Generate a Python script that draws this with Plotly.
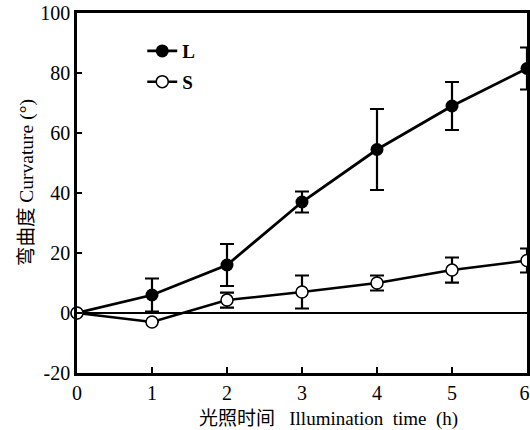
import plotly.graph_objects as go

hours = [0, 1, 2, 3, 4, 5, 6]
L_values = [0, 6, 16, 37, 54.5, 69, 81.5]
L_errors = [0, 5.5, 7, 3.5, 13.5, 8, 7]
S_values = [0, -3, 4.3, 7, 10, 14.3, 17.5]
S_errors = [0, 0, 2.5, 5.5, 2.5, 4.2, 4]
x_ticks = [0, 1, 2, 3, 4, 5, 6]
x_tick_text = ["0", "1", "2", "3", "4", "5", "6\u00a0"]
y_ticks = [-20, 0, 20, 40, 60, 80, 100]
y_tick_text = ["-20", "0", "20", "40", "60", "80", "100"]

serif = "Liberation Serif, Times New Roman, serif"

fig = go.Figure()
fig.add_trace(go.Scatter(
    x=hours, y=L_values, name="<b>L</b>", mode="lines+markers",
    legendgroup="L",
    line=dict(color="black", width=2.8),
    marker=dict(symbol="circle", size=13, color="black"),
    error_y=dict(type="data", array=L_errors, visible=True, color="black",
                 thickness=2.2, width=7),
    cliponaxis=False,
))
fig.add_trace(go.Scatter(
    x=hours, y=S_values, name="<b>S</b>", mode="lines+markers",
    legendgroup="S",
    line=dict(color="black", width=2.5),
    marker=dict(symbol="circle", size=12, color="white",
                line=dict(color="black", width=1.5)),
    error_y=dict(type="data", array=S_errors, visible=True, color="black",
                 thickness=2.2, width=7),
    cliponaxis=False,
))

fig.update_layout(
    width=530, height=430,
    margin=dict(l=77, r=3, t=13, b=57),
    paper_bgcolor="white", plot_bgcolor="white",
    font=dict(family=serif, color="black", size=20),
    showlegend=True,
    legend=dict(x=0.145, y=0.947, xanchor="left", yanchor="top",
                bgcolor="rgba(0,0,0,0)", font=dict(family=serif, size=19),
                tracegroupgap=3),
    xaxis=dict(range=[0, 6], tickvals=x_ticks, ticktext=x_tick_text,
               ticks="inside", ticklen=6,
               tickwidth=2, tickcolor="black", showline=True, linewidth=2.5,
               linecolor="black", mirror=True, showgrid=False, zeroline=False,
               automargin=False, ticklabeloverflow="allow",
               tickfont=dict(family=serif, size=20)),
    yaxis=dict(range=[-20, 100], tickvals=y_ticks, ticktext=y_tick_text,
               ticks="inside", ticklen=5,
               tickwidth=2, tickcolor="black", showline=True, linewidth=2.5,
               linecolor="black", mirror=True, showgrid=False, zeroline=True,
               zerolinecolor="black", zerolinewidth=2.2,
               automargin=False, ticklabeloverflow="allow",
               tickfont=dict(family=serif, size=20)),
)

fig.add_annotation(
    xref="paper", yref="paper", x=0.558, y=-0.122,
    xanchor="center", yanchor="middle", showarrow=False,
    text="<span style='font-family:Noto Sans CJK SC'>光照时间</span>&nbsp;&nbsp; Illumination&nbsp; time&nbsp; (h)",
    font=dict(family=serif, size=19),
)
fig.add_annotation(
    xref="paper", yref="paper", x=-0.118, y=0.53,
    xanchor="center", yanchor="middle", showarrow=False, textangle=-90,
    text="<span style='font-family:Noto Sans CJK SC'>弯曲度</span> Curvature (°)",
    font=dict(family=serif, size=19.5),
)

# remove the browser's default 8px body margin so the figure fills the window
fig.write_html(
    "out.html",
    config={"displayModeBar": False},
    post_script="document.body.style.margin='0';document.body.style.overflow='hidden';",
)
